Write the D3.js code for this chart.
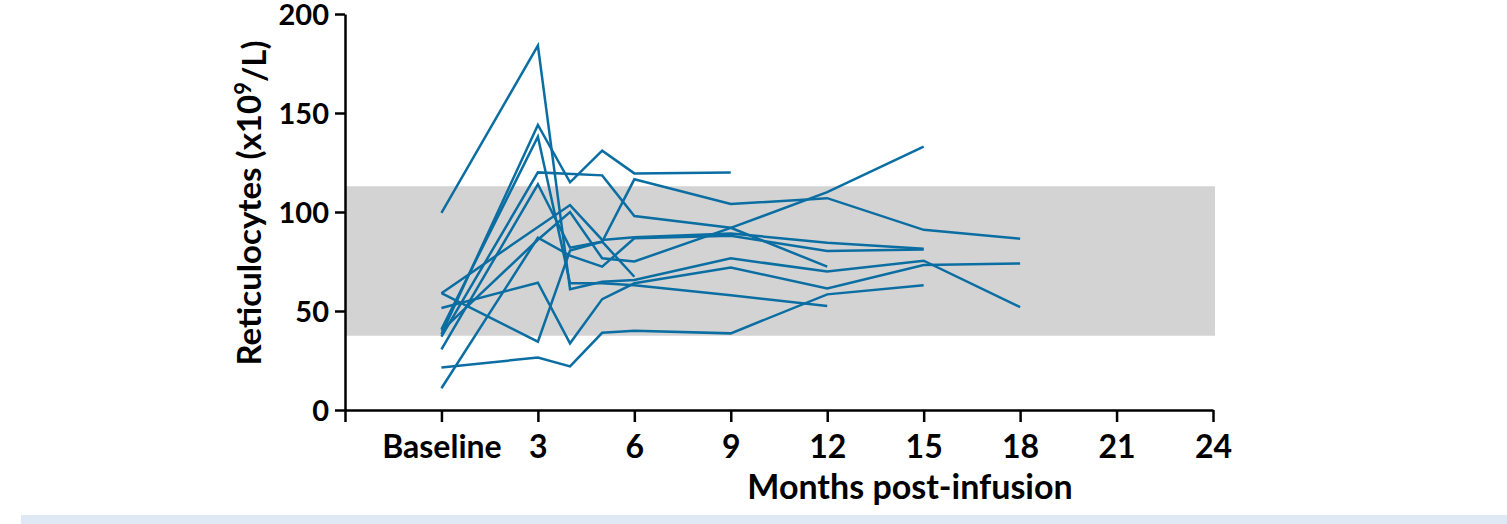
<!DOCTYPE html>
<html>
<head>
<meta charset="utf-8">
<script src="https://cdn.jsdelivr.net/npm/d3@7"></script>
<style>
  html, body { margin: 0; padding: 0; background: #ffffff; }
  svg { display: block; }
  text { font-family: Lato, "Open Sans", "DejaVu Sans", sans-serif; font-weight: 700; fill: #000; }
</style>
</head>
<body>
<div id="chart"></div>
<script>
// ---- data (months post-infusion; 0 = baseline) ----
const months = [-3, 0, 3, 6, 9, 12, 15, 18, 21, 24];
const tickLabels = ["", "Baseline", "3", "6", "9", "12", "15", "18", "21", "24"];
const yTicks = [0, 50, 100, 150, 200];
const normalRange = [37.5, 113];

const p1  = [[0, 99.5], [3, 184], [4, 61], [5, 64.8], [6, 65.7], [9, 76.6], [12, 69.9], [15, 75.4], [18, 52]];
const p2  = [[0, 38.3], [3, 144], [4, 115], [5, 131], [6, 119.5], [9, 120]];
const p3  = [[0, 40.8], [3, 138], [4, 64], [5, 64], [6, 63], [9, 58], [12, 52.5]];
const p4  = [[0, 37], [3, 120], [5, 118.5], [6, 98], [9, 92], [12, 72.4]];
const p5  = [[0, 30.6], [3, 114], [4, 82], [5, 85], [6, 67.3]];
const p6  = [[0, 59], [4, 103.5], [5, 85.9], [6, 87.2], [9, 89.2], [12, 84.5], [15, 81.5]];
const p7  = [[0, 40], [3, 86], [4, 100], [5, 76.6], [6, 75], [9, 92], [12, 110], [15, 133]];
const p8  = [[0, 59], [3, 34.5], [4, 80.5], [5, 85], [6, 116.5], [9, 104], [12, 107], [15, 91], [18, 86.5]];
const p9  = [[0, 51.5], [3, 64.3], [4, 33.7], [5, 56], [6, 64], [9, 72], [12, 61.4], [15, 73.2], [18, 74]];
const p10 = [[0, 21.5], [3, 26.5], [4, 22], [5, 39], [6, 40], [9, 38.7], [12, 58.4], [15, 63]];
const p11 = [[0, 11], [3, 87], [4, 78], [5, 72.4], [6, 86.7], [9, 88], [12, 80.3], [15, 81]];
const patients = [p1, p2, p3, p4, p5, p6, p7, p8, p9, p10, p11];

// ---- layout ----
const W = 1507, H = 524;
const svg = d3.select("#chart").append("svg").attr("width", W).attr("height", H);

// light strip at the bottom of the page
svg.append("rect").attr("x", 21).attr("y", 515).attr("width", W - 21).attr("height", H - 515)
  .attr("fill", "#dfe9f5");

const x = d3.scaleLinear().domain([-3, 24]).range([345, 1213]);
const y = d3.scaleLinear().domain([0, 200]).range([410, 14]);

// normal range band
svg.append("rect")
  .attr("x", x(-3)).attr("width", x(24) - x(-3) + 2)
  .attr("y", y(normalRange[1])).attr("height", y(normalRange[0]) - y(normalRange[1]))
  .attr("fill", "#d3d3d3");

// lines
const line = d3.line().x(d => x(d[0])).y(d => y(d[1]));
svg.append("g").selectAll("path").data(patients).join("path")
  .attr("d", line)
  .attr("fill", "none")
  .attr("stroke", "#0b6ea2")
  .attr("stroke-width", 2.5)
  .attr("stroke-linejoin", "miter");

// y axis
const yAxis = d3.axisLeft(y).tickValues(yTicks).tickSize(10).tickSizeOuter(0).tickPadding(6);
const gy = svg.append("g").attr("transform", `translate(${x(-3)},0)`).call(yAxis);
gy.select(".domain").attr("stroke", "#000").attr("stroke-width", 2.5);
gy.selectAll(".tick line").attr("stroke", "#000").attr("stroke-width", 2.5);
gy.selectAll(".tick text").style("font-size", "29px").attr("dy", "0.36em")
  .style("font-family", "Lato, 'Open Sans', sans-serif").style("font-weight", 700);

// x axis
const xAxis = d3.axisBottom(x).tickValues(months)
  .tickFormat((d, i) => tickLabels[i]).tickSize(12).tickSizeOuter(0).tickPadding(13);
const gx = svg.append("g").attr("transform", `translate(0,${y(0)})`).call(xAxis);
gx.select(".domain").attr("stroke", "#000").attr("stroke-width", 2.5);
gx.selectAll(".tick line").attr("stroke", "#000").attr("stroke-width", 2.5);
gx.selectAll(".tick text").style("font-size", "32px")
  .style("font-family", "Lato, 'Open Sans', sans-serif").style("font-weight", 700);

// axis titles
svg.append("text")
  .attr("x", 910).attr("y", 499)
  .attr("text-anchor", "middle")
  .style("font-size", "34px")
  .text("Months post-infusion");

const yt = svg.append("text")
  .attr("transform", "translate(261,203) rotate(-90)")
  .attr("text-anchor", "middle")
  .style("font-size", "33px");
yt.append("tspan").text("Reticulocytes (x10");
yt.append("tspan").attr("dy", "-0.45em").style("font-size", "22px").text("9");
yt.append("tspan").attr("dy", "0.45em").text("/L)");
</script>
</body>
</html>
